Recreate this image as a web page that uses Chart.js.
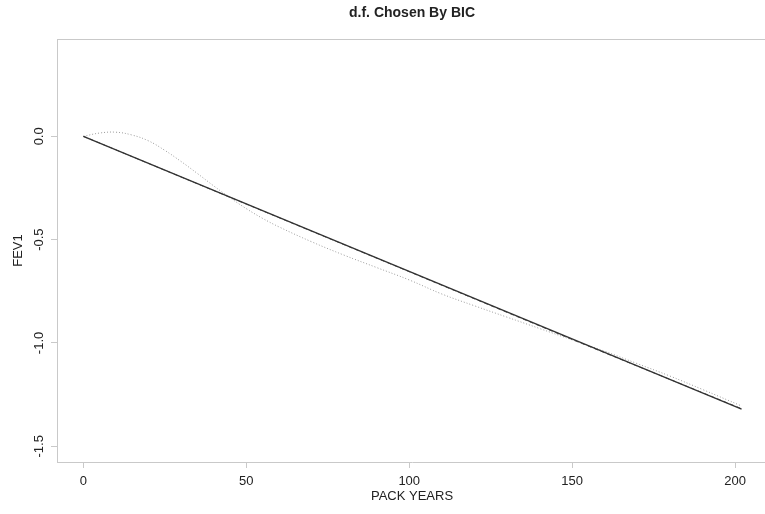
<!DOCTYPE html>
<html>
<head>
<meta charset="utf-8">
<script src="https://cdn.jsdelivr.net/npm/chart.js@4/dist/chart.umd.min.js"></script>
<style>
  html, body { margin: 0; padding: 0; background: #fff; overflow: hidden; }
  #wrap { width: 770px; height: 514px; }
</style>
</head>
<body>
<div id="wrap"><canvas id="c" width="770" height="514"></canvas></div>
<script>
// Fitted FEV1 change versus pack-years for three smoothing choices
const packYears = [0, 5, 10, 15, 20, 25, 30, 35, 40, 45, 50, 55, 60, 70, 80, 90, 100,
                   110, 120, 130, 140, 150, 160, 170, 180, 190, 202];
const splineFit = [0, 0.016, 0.02, 0.006, -0.022, -0.068, -0.122, -0.18, -0.24, -0.297,
                   -0.35, -0.397, -0.438, -0.51, -0.575, -0.635, -0.695, -0.763, -0.82,
                   -0.875, -0.93, -0.985, -1.04, -1.10, -1.16, -1.225, -1.305];
const linearX = [0, 202];
const linearFit = [0, -1.32];
const bicX = [0, 50, 100, 150, 202];
const bicFit = [0, -0.328, -0.655, -0.983, -1.318];

const xTicks = [0, 50, 100, 150, 200];
const yTicks = [0.0, -0.5, -1.0, -1.5];
const titleText = 'd.f. Chosen By BIC';
const xTitle = 'PACK YEARS';
const yTitle = 'FEV1';

const FONT = '"Liberation Sans", Arial, Helvetica, sans-serif';
const frameColor = '#c9c9c9';
const textColor = '#222';

const pts = (xs, ys) => xs.map((x, i) => ({ x: x, y: ys[i] }));

// Plot title centred over the plotting region, plus the top edge of the frame
const framePlugin = {
  id: 'frame',
  afterDraw(chart) {
    const { ctx, chartArea: a } = chart;
    ctx.save();
    ctx.strokeStyle = frameColor;
    ctx.lineWidth = 1;
    ctx.beginPath();
    ctx.moveTo(a.left, a.top + 0.5);
    ctx.lineTo(a.right, a.top + 0.5);
    ctx.stroke();
    ctx.fillStyle = textColor;
    ctx.font = 'bold 14px ' + FONT;
    ctx.textAlign = 'center';
    ctx.textBaseline = 'middle';
    ctx.fillText(titleText, (a.left + a.right) / 2, 13);
    ctx.restore();
  }
};

new Chart(document.getElementById('c'), {
  type: 'line',
  data: {
    datasets: [
      {
        label: 'linear',
        data: pts(linearX, linearFit),
        borderColor: '#333',
        borderWidth: 1.3,
        pointRadius: 0,
        tension: 0
      },
      {
        label: 'BIC',
        data: pts(bicX, bicFit),
        borderColor: '#555',
        borderWidth: 1,
        borderDash: [4, 3],
        pointRadius: 0,
        tension: 0
      },
      {
        label: 'spline',
        data: pts(packYears, splineFit),
        borderColor: '#9a9a9a',
        borderWidth: 1,
        borderDash: [1, 2],
        pointRadius: 0,
        tension: 0.4
      }
    ]
  },
  options: {
    responsive: false,
    animation: false,
    devicePixelRatio: 1,
    layout: { padding: { top: 39, right: 3, left: 0, bottom: 0 } },
    plugins: {
      legend: { display: false },
      title: { display: false },
      tooltip: { enabled: false }
    },
    scales: {
      x: {
        type: 'linear',
        min: -8.1,
        max: 209.8,
        afterFit: s => { s.height = 52; },
        afterBuildTicks: s => { s.ticks = xTicks.map(v => ({ value: v })); },
        grid: { drawOnChartArea: false, drawTicks: true, tickLength: 6, color: frameColor },
        border: { display: true, color: frameColor },
        ticks: {
          padding: 6,
          color: textColor,
          font: { family: FONT, size: 13 },
          maxRotation: 0,
          callback: v => String(v)
        },
        title: {
          display: true,
          text: xTitle,
          color: textColor,
          font: { family: FONT, size: 13 },
          padding: { top: 0, bottom: 10 }
        }
      },
      y: {
        type: 'linear',
        min: -1.576,
        max: 0.471,
        afterFit: s => { s.width = 57; },
        afterBuildTicks: s => { s.ticks = yTicks.map(v => ({ value: v })); },
        grid: { drawOnChartArea: false, drawTicks: true, tickLength: 6, color: frameColor },
        border: { display: true, color: frameColor },
        ticks: {
          padding: 0,
          color: textColor,
          font: { family: FONT, size: 13 },
          minRotation: 90,
          maxRotation: 90,
          crossAlign: 'center',
          callback: v => Number(v).toFixed(1)
        },
        title: {
          display: true,
          text: yTitle,
          color: textColor,
          font: { family: FONT, size: 13 },
          padding: { top: 11, bottom: 0 }
        }
      }
    }
  },
  plugins: [framePlugin]
});
</script>
</body>
</html>
